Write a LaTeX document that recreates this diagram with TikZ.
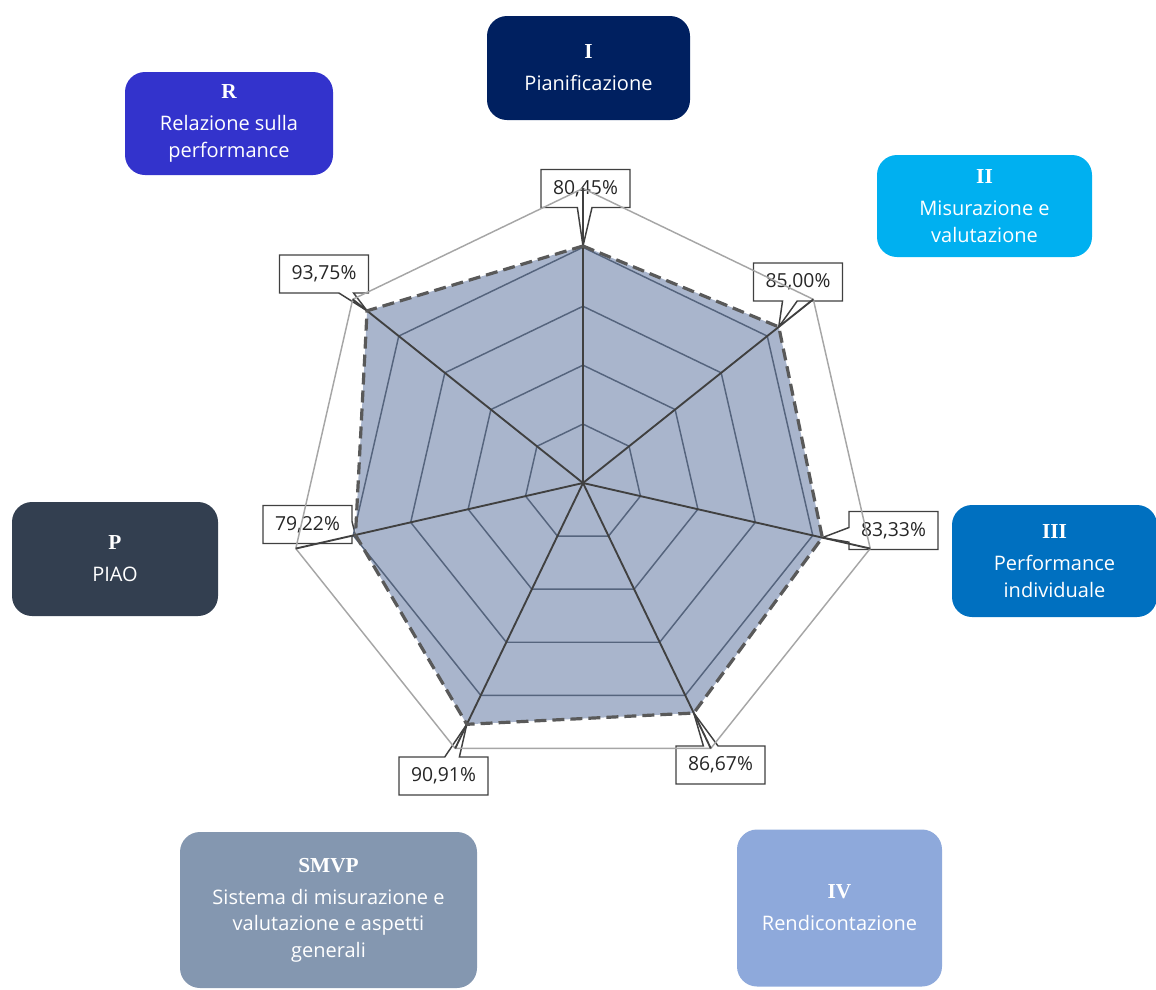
\documentclass[tikz,border=0pt]{standalone}
\usepackage{fontspec}
\setmainfont{Open Sans}
\newfontfamily\numf{Liberation Serif}
\usetikzlibrary{shapes.callouts}
\definecolor{catR}{HTML}{3333CC}
\definecolor{catI}{HTML}{002060}
\definecolor{catII}{HTML}{00B0F0}
\definecolor{catIII}{HTML}{0070C0}
\definecolor{catIV}{HTML}{8EA9DB}
\definecolor{catS}{HTML}{8497B0}
\definecolor{catP}{HTML}{333F50}
\definecolor{datafillc}{HTML}{A9B5CC}
\definecolor{gridc}{HTML}{55647D}
\definecolor{axisc}{HTML}{404040}
\definecolor{outerc}{HTML}{A6A6A6}
\definecolor{dashc}{HTML}{595959}
\definecolor{pcttext}{HTML}{262626}
\tikzset{
  catbox/.style={rectangle, rounded corners=15pt, draw=none, text=white, align=center,
    font=\fontsize{15}{20}\selectfont, inner sep=2pt},
  pctlabel/.style={rectangle callout, draw=axisc, line width=1.1pt, fill=white,
    text=pcttext, minimum width=66.75pt, minimum height=28.5pt, inner sep=1pt,
    font=\fontsize{14.5}{17}\selectfont, callout pointer width=11pt},
  gridline/.style={draw=gridc, line width=1.1pt, line join=round},
  outerline/.style={draw=outerc, line width=1.1pt, line join=round},
  axisline/.style={draw=axisc, line width=1.4pt},
  dataline/.style={draw=dashc, line width=2.4pt, dash pattern=on 9pt off 4.5pt, line join=round},
  datafill/.style={fill=datafillc},
}
\newcommand{\nm}[1]{{\numf\bfseries\fontsize{16}{18}\selectfont #1}}
\begin{document}
\begin{tikzpicture}[x=0.75pt,y=-0.75pt]
\useasboundingbox (0,0) rectangle (1156,989);
\def\cx{583}\def\cy{483}\def\Rad{294.6}
\coordinate (c) at (\cx,\cy);
\foreach \k/\v in {0/80.45,1/85.00,2/83.33,3/86.67,4/90.91,5/79.22,6/93.75} {
  \pgfmathsetmacro\ang{90-\k*360/7}
  \pgfmathsetmacro\rr{\Rad*(\v/100)}
  \coordinate (d\k) at ({\cx+\rr*cos(\ang)},{\cy-\rr*sin(\ang)});
  \coordinate (o\k) at ({\cx+\Rad*cos(\ang)},{\cy-\Rad*sin(\ang)});
  \foreach \j in {1,2,3,4} {
    \pgfmathsetmacro\rg{\Rad*(\j/5)}
    \coordinate (g\j-\k) at ({\cx+\rg*cos(\ang)},{\cy-\rg*sin(\ang)});
  }
}
% percentage callouts
\node[pctlabel, callout absolute pointer={(d0)}] (l0) at (585.5,188.5) {80,45\%};
\node[pctlabel, callout absolute pointer={(d1)}] (l1) at (798,282) {85,00\%};
\node[pctlabel, callout absolute pointer={(d2)}] (l2) at (893.5,530.5) {83,33\%};
\node[pctlabel, callout absolute pointer={(d3)}] (l3) at (720.5,765) {86,67\%};
\node[pctlabel, callout absolute pointer={(d4)}] (l4) at (443.5,776) {90,91\%};
\node[pctlabel, callout absolute pointer={(d5)}] (l5) at (307.5,524.5) {79,22\%};
\node[pctlabel, callout absolute pointer={(d6)}] (l6) at (324,274) {93,75\%};
% data area
\fill[datafill] (d0)--(d1)--(d2)--(d3)--(d4)--(d5)--(d6)--cycle;
% grid
\foreach \j in {1,2,3,4} {
  \draw[gridline] (g\j-0)--(g\j-1)--(g\j-2)--(g\j-3)--(g\j-4)--(g\j-5)--(g\j-6)--cycle;
}
\draw[outerline] (o0)--(o1)--(o2)--(o3)--(o4)--(o5)--(o6)--cycle;
\foreach \k in {0,...,6} { \draw[axisline] (c)--(o\k); }
\draw[dataline] (d0)--(d1)--(d2)--(d3)--(d4)--(d5)--(d6)--cycle;
% category boxes
\node[catbox, fill=catR, minimum width=156pt, minimum height=77.25pt] (bR) at (229,123.5)
  {\nm{R}\\[4pt] Relazione sulla\\performance};
\node[catbox, fill=catI, minimum width=152.25pt, minimum height=78pt] (bI) at (588.5,68)
  {\nm{I}\\[4pt] Pianificazione};
\node[catbox, fill=catII, minimum width=161.25pt, minimum height=76.5pt] (bII) at (984.5,206)
  {\nm{II}\\[4pt] Misurazione e\\valutazione};
\node[catbox, fill=catIII, minimum width=153.75pt, minimum height=84pt] (bIII) at (1054.5,561)
  {\nm{III}\\[4pt] Performance\\individuale};
\node[catbox, fill=catIV, minimum width=153.75pt, minimum height=117.75pt] (bIV) at (839.5,908)
  {\nm{IV}\\[4pt] Rendicontazione};
\node[catbox, fill=catS, minimum width=222.75pt, minimum height=117pt] (bS) at (328.5,910)
  {\nm{SMVP}\\[4pt] Sistema di misurazione e\\valutazione e aspetti\\generali};
\node[catbox, fill=catP, minimum width=154.5pt, minimum height=85.5pt] (bP) at (115,559)
  {\nm{P}\\[4pt] PIAO};
\end{tikzpicture}
\end{document}
